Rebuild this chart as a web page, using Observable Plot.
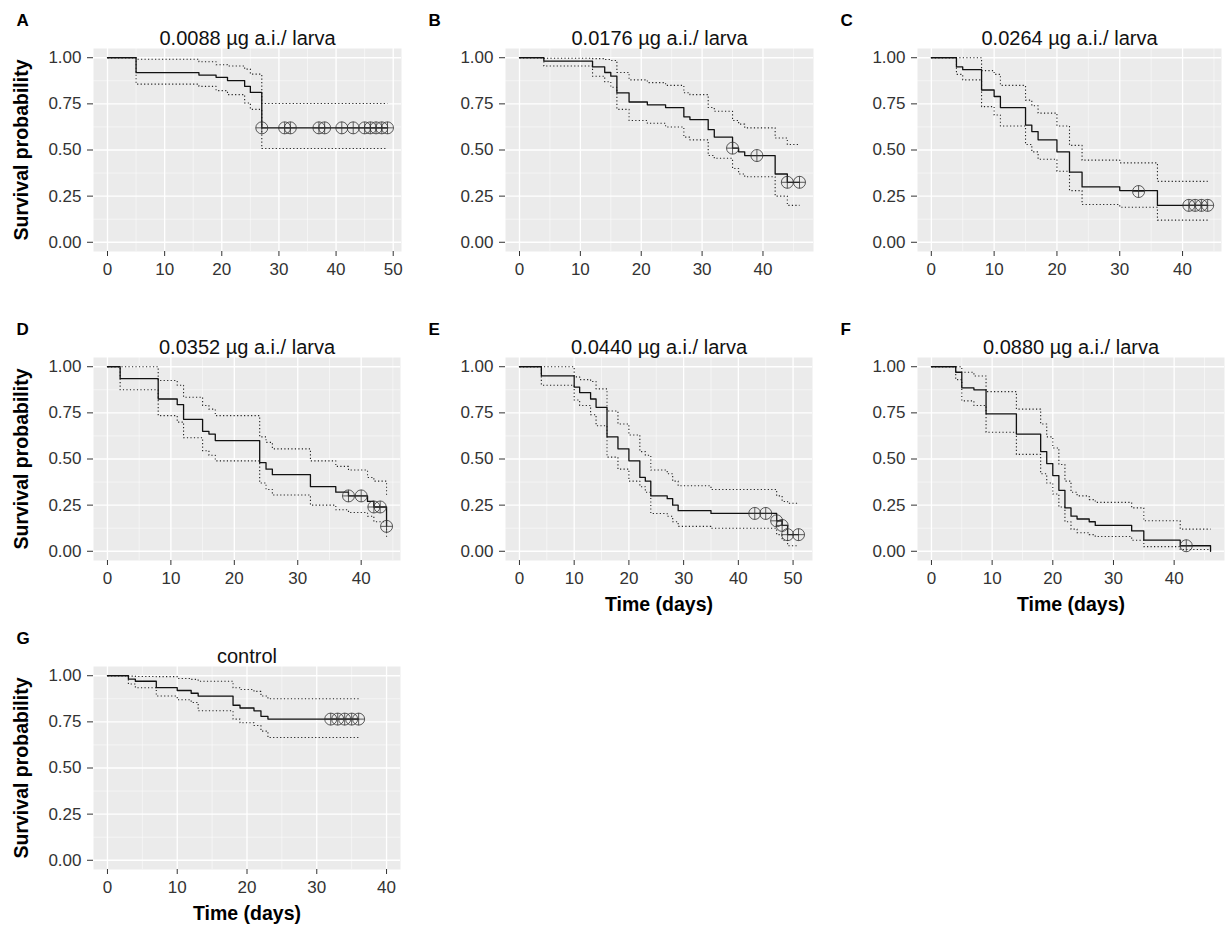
<!DOCTYPE html>
<html><head><meta charset="utf-8">
<script src="https://cdn.jsdelivr.net/npm/d3@7"></script>
<script src="https://cdn.jsdelivr.net/npm/@observablehq/plot@0.6"></script>
<style>
body{margin:0;background:#fff;}
#fig{position:relative;width:1230px;height:930px;font-family:"Liberation Sans",Arial,sans-serif;}
.panel{position:absolute;}
</style></head><body><div id="fig"></div>
<script>
// ---- Panel A: 0.0088 µg a.i./ larva
const A_time  = [0, 5, 16, 19, 21, 24, 25, 27, 49];
const A_surv  = [1, 0.919, 0.906, 0.894, 0.876, 0.845, 0.812, 0.62, 0.62];
const A_upper = [1, 0.992, 0.978, 0.962, 0.955, 0.938, 0.911, 0.752, 0.752];
const A_lower = [1, 0.857, 0.845, 0.822, 0.80, 0.755, 0.72, 0.508, 0.508];
const A_censTime = [27, 31, 32, 37, 38, 41, 43, 45, 46, 47, 48, 49];
const A_censSurv = [0.62, 0.62, 0.62, 0.62, 0.62, 0.62, 0.62, 0.62, 0.62, 0.62, 0.62, 0.62];

// ---- Panel B: 0.0176
const B_time  = [0, 4, 12, 14, 15, 16, 18, 21, 24, 27, 28, 31, 32, 35, 36, 37, 42, 44, 46];
const B_surv  = [1, 0.982, 0.95, 0.92, 0.90, 0.81, 0.76, 0.745, 0.73, 0.68, 0.665, 0.61, 0.57, 0.51, 0.49, 0.47, 0.37, 0.325, 0.325];
const B_upper = [1, 0.997, 0.995, 0.99, 0.985, 0.92, 0.88, 0.865, 0.85, 0.81, 0.80, 0.73, 0.71, 0.66, 0.64, 0.62, 0.565, 0.53, 0.53];
const B_lower = [1, 0.955, 0.90, 0.87, 0.84, 0.72, 0.66, 0.645, 0.625, 0.57, 0.555, 0.47, 0.455, 0.40, 0.37, 0.355, 0.25, 0.20, 0.20];
const B_censTime = [35, 39, 44, 46];
const B_censSurv = [0.51, 0.47, 0.325, 0.325];

// ---- Panel C: 0.0264
const C_time  = [0, 4, 5, 8, 10, 11, 15, 16, 17, 20, 22, 24, 30, 36, 44];
const C_surv  = [1, 0.95, 0.935, 0.825, 0.79, 0.73, 0.635, 0.60, 0.555, 0.49, 0.38, 0.30, 0.28, 0.20, 0.20];
const C_upper = [1, 1, 1, 0.93, 0.91, 0.85, 0.77, 0.74, 0.70, 0.63, 0.525, 0.445, 0.43, 0.33, 0.33];
const C_lower = [1, 0.91, 0.88, 0.735, 0.69, 0.63, 0.53, 0.49, 0.45, 0.385, 0.28, 0.205, 0.19, 0.12, 0.12];
const C_censTime = [33, 41, 42, 43, 44];
const C_censSurv = [0.275, 0.20, 0.20, 0.20, 0.20];

// ---- Panel D: 0.0352
const D_time  = [0, 2, 8, 11, 12, 15, 16, 17, 24, 25, 26, 32, 36, 38, 41, 42, 44];
const D_surv  = [1, 0.935, 0.825, 0.795, 0.715, 0.65, 0.635, 0.60, 0.48, 0.445, 0.415, 0.35, 0.32, 0.30, 0.27, 0.24, 0.135];
const D_upper = [1, 1, 0.925, 0.90, 0.835, 0.79, 0.77, 0.735, 0.62, 0.59, 0.555, 0.49, 0.46, 0.44, 0.40, 0.38, 0.30];
const D_lower = [1, 0.875, 0.735, 0.70, 0.615, 0.545, 0.52, 0.49, 0.37, 0.335, 0.305, 0.25, 0.225, 0.21, 0.19, 0.16, 0.07];
const D_censTime = [38, 40, 42, 43, 44];
const D_censSurv = [0.30, 0.30, 0.24, 0.24, 0.135];

// ---- Panel E: 0.0440
const E_time  = [0, 4, 10, 11, 13, 14, 16, 18, 20, 22, 23, 24, 27, 28, 29, 35, 47, 48, 49, 51];
const E_surv  = [1, 0.95, 0.89, 0.86, 0.825, 0.78, 0.62, 0.555, 0.49, 0.40, 0.38, 0.30, 0.285, 0.25, 0.22, 0.205, 0.165, 0.14, 0.09, 0.09];
const E_upper = [1, 1, 0.945, 0.93, 0.92, 0.88, 0.76, 0.69, 0.63, 0.54, 0.52, 0.44, 0.42, 0.38, 0.355, 0.335, 0.30, 0.27, 0.26, 0.26];
const E_lower = [1, 0.90, 0.82, 0.79, 0.74, 0.68, 0.51, 0.445, 0.38, 0.35, 0.32, 0.205, 0.19, 0.16, 0.135, 0.125, 0.09, 0.06, 0.03, 0.03];
const E_censTime = [43, 45, 47, 48, 49, 51];
const E_censSurv = [0.205, 0.205, 0.165, 0.14, 0.09, 0.09];

// ---- Panel F: 0.0880
const F_time  = [0, 4, 5, 7, 9, 14, 18, 19, 20, 21, 22, 23, 24, 26, 27, 33, 35, 41, 46];
const F_surv  = [1, 0.97, 0.885, 0.875, 0.745, 0.635, 0.54, 0.475, 0.41, 0.33, 0.235, 0.19, 0.175, 0.16, 0.14, 0.11, 0.06, 0.03, 0];
const F_upper = [1, 1, 0.97, 0.95, 0.865, 0.77, 0.69, 0.62, 0.56, 0.47, 0.38, 0.32, 0.30, 0.28, 0.265, 0.235, 0.165, 0.12, 0.12];
const F_lower = [1, 0.93, 0.815, 0.79, 0.645, 0.525, 0.42, 0.37, 0.31, 0.24, 0.16, 0.12, 0.10, 0.09, 0.08, 0.06, 0.025, 0.01, 0.01];
const F_censTime = [42];
const F_censSurv = [0.03];

// ---- Panel G: control
const G_time  = [0, 3, 4, 7, 10, 12, 13, 18, 19, 21, 22, 23, 36];
const G_surv  = [1, 0.982, 0.97, 0.935, 0.92, 0.905, 0.89, 0.84, 0.825, 0.81, 0.78, 0.765, 0.765];
const G_upper = [1, 0.998, 0.996, 0.995, 0.985, 0.98, 0.97, 0.935, 0.925, 0.915, 0.89, 0.875, 0.875];
const G_lower = [1, 0.955, 0.935, 0.89, 0.87, 0.855, 0.81, 0.765, 0.745, 0.73, 0.70, 0.665, 0.665];
const G_censTime = [32, 33, 34, 35, 36];
const G_censSurv = [0.765, 0.765, 0.765, 0.765, 0.765];

// axis ticks
const yTicks = [0, 0.25, 0.5, 0.75, 1];
const yMinor = [0.125, 0.375, 0.625, 0.875];
const ticks50 = [0, 10, 20, 30, 40, 50];
const ticks40 = [0, 10, 20, 30, 40];
const titles = {
  A: "0.0088 µg a.i./ larva", B: "0.0176 µg a.i./ larva", C: "0.0264 µg a.i./ larva",
  D: "0.0352 µg a.i./ larva", E: "0.0440 µg a.i./ larva", F: "0.0880 µg a.i./ larva",
  G: "control"
};

const panels = [
  {id:"A", time:A_time, surv:A_surv, upper:A_upper, lower:A_lower, cT:A_censTime, cS:A_censSurv, xlim:[0,49], xt:ticks50, col:0, row:0, fw:308, yLab:true,  xLab:false},
  {id:"B", time:B_time, surv:B_surv, upper:B_upper, lower:B_lower, cT:B_censTime, cS:B_censSurv, xlim:[0,46], xt:ticks40, col:1, row:0, fw:308, yLab:false, xLab:false},
  {id:"C", time:C_time, surv:C_surv, upper:C_upper, lower:C_lower, cT:C_censTime, cS:C_censSurv, xlim:[0,44], xt:ticks40, col:2, row:0, fw:304, yLab:false, xLab:false},
  {id:"D", time:D_time, surv:D_surv, upper:D_upper, lower:D_lower, cT:D_censTime, cS:D_censSurv, xlim:[0,44], xt:ticks40, col:0, row:1, fw:307, yLab:true,  xLab:false},
  {id:"E", time:E_time, surv:E_surv, upper:E_upper, lower:E_lower, cT:E_censTime, cS:E_censSurv, xlim:[0,51], xt:ticks50, col:1, row:1, fw:307, yLab:false, xLab:true},
  {id:"F", time:F_time, surv:F_surv, upper:F_upper, lower:F_lower, cT:F_censTime, cS:F_censSurv, xlim:[0,46], xt:ticks40, col:2, row:1, fw:307, yLab:false, xLab:true},
  {id:"G", time:G_time, surv:G_surv, upper:G_upper, lower:G_lower, cT:G_censTime, cS:G_censSurv, xlim:[0,40], xt:ticks40, col:0, row:2, fw:307, yLab:true,  xLab:true}
];

const colLeft = [0, 412, 824];
const rowTop = [0, 309, 618];
const ML = 93, MT = 48, FH = 203, MB = 60, MR = 4;
const fig = document.getElementById("fig");

for (const p of panels) {
  const data = p.time.map((t, i) => ({t, s: p.surv[i], u: p.upper[i], l: p.lower[i]}));
  const cens = p.cT.map((t, i) => ({t, s: p.cS[i]}));
  const pad = (p.xlim[1] - p.xlim[0]) * 0.05;
  const dom = [p.xlim[0] - pad, p.xlim[1] + pad];
  const minorX = p.xt.slice(0, -1).map((v, i) => (v + p.xt[i + 1]) / 2)
    .concat([p.xt[p.xt.length - 1] + 5]).filter(v => v > dom[0] && v < dom[1]);
  const dotted = {curve: "step-after", stroke: "#222", strokeWidth: 1.1, strokeDasharray: "1.2,2.3", strokeLinecap: "butt"};
  const chart = Plot.plot({
    width: ML + p.fw + MR, height: MT + FH + MB,
    marginLeft: ML, marginRight: MR, marginTop: MT, marginBottom: MB,
    style: {fontFamily: '"Liberation Sans", Arial, sans-serif', fontSize: "17px", background: "transparent", overflow: "visible", color: "#333"},
    x: {domain: dom},
    y: {domain: [-0.05, 1.05]},
    marks: [
      Plot.frame({fill: "#EBEBEB", stroke: null}),
      Plot.gridX(minorX, {stroke: "white", strokeOpacity: 0.85, strokeWidth: 0.6}),
      Plot.gridY(yMinor, {stroke: "white", strokeOpacity: 0.85, strokeWidth: 0.6}),
      Plot.gridX(p.xt, {stroke: "white", strokeOpacity: 1, strokeWidth: 1.3}),
      Plot.gridY(yTicks, {stroke: "white", strokeOpacity: 1, strokeWidth: 1.3}),
      Plot.axisX(p.xt, {tickSize: 5, tickPadding: 6, label: null, fontSize: 17, tickFormat: d => String(d)}),
      Plot.axisY(yTicks, {tickSize: 6, tickPadding: 6, label: null, fontSize: 17, tickFormat: d => d.toFixed(2)}),
      Plot.line(data, {x: "t", y: "u", ...dotted}),
      Plot.line(data, {x: "t", y: "l", ...dotted}),
      Plot.line(data, {x: "t", y: "s", curve: "step-after", stroke: "#111", strokeWidth: 1.3}),
      Plot.dot(cens, {x: "t", y: "s", r: 6, stroke: "#333", strokeWidth: 0.8, fill: "none"}),
      Plot.dot(cens, {x: "t", y: "s", r: 4, symbol: "plus", stroke: "#333", strokeWidth: 0.8}),
      Plot.text([titles[p.id]], {frameAnchor: "top", lineAnchor: "bottom", dy: -4, fontSize: 20, fill: "#111"}),
      Plot.text([p.id], {frameAnchor: "top-left", textAnchor: "start", lineAnchor: "bottom", dx: -77, dy: -23, fontSize: 17, fontWeight: "bold", fill: "#000"}),
      p.yLab ? Plot.text(["Survival probability"], {frameAnchor: "left", textAnchor: "middle", lineAnchor: "middle", rotate: -90, dx: -72, fontSize: 19.5, fontWeight: "bold", fill: "#000"}) : null,
      p.xLab ? Plot.text(["Time (days)"], {frameAnchor: "bottom", textAnchor: "middle", lineAnchor: "bottom", dy: 50, fontSize: 19.5, fontWeight: "bold", fill: "#000"}) : null
    ]
  });
  const wrap = document.createElement("div");
  wrap.className = "panel";
  wrap.style.left = colLeft[p.col] + "px";
  wrap.style.top = rowTop[p.row] + "px";
  wrap.appendChild(chart);
  fig.appendChild(wrap);
}
</script>
</body></html>
